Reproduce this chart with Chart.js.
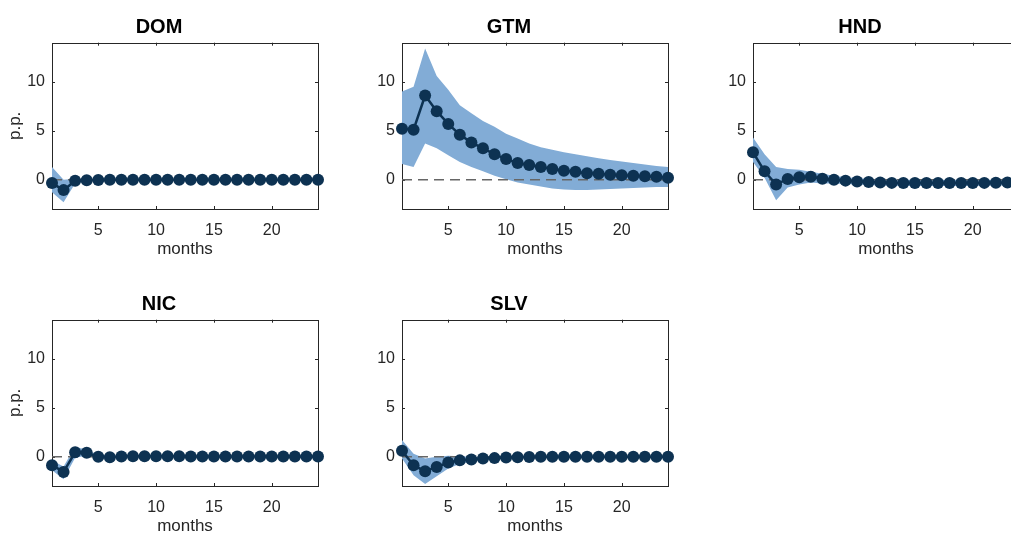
<!DOCTYPE html>
<html>
<head>
<meta charset="utf-8">
<script src="https://cdn.jsdelivr.net/npm/chart.js@4"></script>
<style>
  html, body { margin: 0; padding: 0; background: #fff; }
  body { width: 1011px; height: 533px; overflow: hidden; position: relative; }
  canvas { position: absolute; }
</style>
</head>
<body>
<div id="charts"></div>
<script>
// months on the x axis and the tick labels used by every panel
const months = [1,2,3,4,5,6,7,8,9,10,11,12,13,14,15,16,17,18,19,20,21,22,23,24];
const xTicks = [5, 10, 15, 20];
const yTicks = [0, 5, 10];

// point estimates (p.p.) and the upper / lower band for each country
const domMid = [-0.35,-1.07,-0.12,-0.05,-0.03,-0.02,-0.02,-0.01,-0.01,0,0,0,0,0,0,0,0,0,0,0,0,0,0,0];
const domHi  = [1.3,0.0,0.1,0.06,0.05,0.04,0.03,0.03,0.02,0.02,0.02,0.02,0.02,0.02,0.02,0.02,0.02,0.02,0.02,0.02,0.02,0.02,0.02,0.02];
const domLo  = [-1.3,-2.3,-0.4,-0.16,-0.11,-0.08,-0.06,-0.05,-0.04,-0.03,-0.02,-0.02,-0.02,-0.02,-0.02,-0.02,-0.02,-0.02,-0.02,-0.02,-0.02,-0.02,-0.02,-0.02];

const gtmMid = [5.2,5.1,8.6,7.0,5.7,4.6,3.8,3.2,2.6,2.1,1.7,1.5,1.3,1.1,0.9,0.8,0.65,0.6,0.5,0.45,0.4,0.35,0.3,0.2];
const gtmHi  = [9.0,9.5,13.4,10.6,9.2,7.6,6.8,6.0,5.4,4.7,4.2,3.7,3.3,3.05,2.8,2.6,2.4,2.2,2.0,1.85,1.7,1.55,1.4,1.3];
const gtmLo  = [1.6,1.3,3.7,3.2,2.5,1.8,1.3,0.85,0.4,0.05,-0.3,-0.5,-0.7,-0.9,-1.0,-1.05,-1.05,-1.0,-0.95,-0.9,-0.85,-0.8,-0.75,-0.75];

const hndMid = [2.8,0.85,-0.5,0.07,0.24,0.3,0.1,0.0,-0.1,-0.2,-0.25,-0.3,-0.33,-0.35,-0.35,-0.35,-0.35,-0.35,-0.35,-0.35,-0.33,-0.32,-0.3,-0.3];
const hndHi  = [4.3,2.6,1.3,1.1,1.0,0.8,0.6,0.4,0.25,0.15,0.1,0.05,0.02,0.0,0.0,0.0,0.0,0.0,0.0,0.0,0.0,0.0,0.0,0.0];
const hndLo  = [1.8,0.2,-2.1,-0.8,-0.5,-0.3,-0.4,-0.4,-0.45,-0.5,-0.55,-0.6,-0.62,-0.64,-0.64,-0.64,-0.64,-0.64,-0.64,-0.64,-0.62,-0.6,-0.6,-0.6];

const nicMid = [-0.87,-1.56,0.45,0.4,-0.02,-0.05,0.02,0.04,0.04,0.04,0.03,0.03,0.02,0.02,0.02,0.02,0.02,0.02,0.02,0.02,0.02,0.02,0.02,0.02];
const nicHi  = [-0.4,-1.0,1.0,0.7,0.15,0.1,0.1,0.08,0.07,0.06,0.05,0.05,0.04,0.04,0.04,0.04,0.04,0.04,0.04,0.04,0.04,0.04,0.04,0.04];
const nicLo  = [-1.4,-2.3,-0.1,0.1,-0.15,-0.15,-0.05,0.0,0.01,0.01,0.01,0.01,0.0,0.0,0.0,0.0,0.0,0.0,0.0,0.0,0.0,0.0,0.0,0.0];

const slvMid = [0.6,-0.87,-1.5,-1.05,-0.6,-0.38,-0.28,-0.2,-0.15,-0.08,-0.05,-0.03,-0.02,-0.01,0,0,0,0,0,0,0,0,0,0];
const slvHi  = [1.7,0.3,-0.2,0.0,0.1,0.05,0.0,-0.05,-0.05,0.02,0.03,0.03,0.03,0.03,0.03,0.03,0.03,0.03,0.03,0.03,0.03,0.03,0.03,0.03];
const slvLo  = [-0.2,-1.9,-2.8,-2.0,-1.2,-0.75,-0.5,-0.35,-0.25,-0.15,-0.1,-0.08,-0.06,-0.05,-0.04,-0.03,-0.03,-0.03,-0.03,-0.03,-0.03,-0.03,-0.03,-0.03];

// colours
const lineColor = "#0d3252";
const bandColor = "rgb(130,172,214)";
const axisColor = "#262626";
const fontName = "'Liberation Sans', Arial, sans-serif";

// helper: pair months with values for a linear x axis
function pts(values) {
  return values.map((v, i) => ({ x: months[i], y: v }));
}

// draws the axes box with inward ticks on all four sides (matlab look)
const boxPlugin = {
  id: "boxPlugin",
  beforeDatasetsDraw(chart) {
    const a = chart.chartArea;
    const xs = chart.scales.x;
    const ys = chart.scales.y;
    const ctx = chart.ctx;
    ctx.save();
    ctx.strokeStyle = axisColor;
    ctx.lineWidth = 1;
    ctx.strokeRect(Math.round(a.left) + 0.5, Math.round(a.top) + 0.5,
      Math.round(a.right - a.left), Math.round(a.bottom - a.top));
    ctx.beginPath();
    xTicks.forEach(t => {
      const px = Math.round(xs.getPixelForValue(t)) + 0.5;
      ctx.moveTo(px, a.bottom); ctx.lineTo(px, a.bottom - 3);
      ctx.moveTo(px, a.top); ctx.lineTo(px, a.top + 3);
    });
    yTicks.forEach(t => {
      const py = Math.round(ys.getPixelForValue(t)) + 0.5;
      ctx.moveTo(a.left, py); ctx.lineTo(a.left + 3, py);
      ctx.moveTo(a.right, py); ctx.lineTo(a.right - 3, py);
    });
    ctx.stroke();
    ctx.restore();
  }
};

// one panel = one canvas placed where the reference puts it
function makePanel(title, mid, hi, lo, left, top, showYTitle) {
  const canv = document.createElement("canvas");
  canv.width = 370;
  canv.height = 270;
  canv.style.left = left + "px";
  canv.style.top = top + "px";
  canv.style.width = "370px";
  canv.style.height = "270px";
  document.getElementById("charts").appendChild(canv);

  new Chart(canv.getContext("2d"), {
    type: "line",
    data: {
      datasets: [
        {
          data: pts(mid),
          borderColor: lineColor,
          backgroundColor: lineColor,
          borderWidth: 2.5,
          pointRadius: 6,
          pointBorderWidth: 0,
          pointBackgroundColor: lineColor,
          fill: false,
          clip: false
        },
        {
          data: [{ x: months[0], y: 0 }, { x: months[months.length - 1], y: 0 }],
          borderColor: "#666666",
          borderWidth: 1.5,
          borderDash: [10, 6],
          pointRadius: 0,
          fill: false
        },
        {
          data: pts(hi),
          borderWidth: 0,
          borderColor: bandColor,
          backgroundColor: bandColor,
          pointRadius: 0,
          fill: "+1"
        },
        {
          data: pts(lo),
          borderWidth: 0,
          borderColor: bandColor,
          pointRadius: 0,
          fill: false
        }
      ]
    },
    options: {
      responsive: false,
      animation: false,
      events: [],
      layout: { padding: { left: 0, right: 52, top: 0, bottom: 0 } },
      plugins: {
        legend: { display: false },
        tooltip: { enabled: false },
        title: {
          display: true,
          text: title,
          color: "#000",
          font: { family: fontName, size: 20, weight: "bold" },
          padding: { top: 15, bottom: 3.7 }
        }
      },
      scales: {
        x: {
          type: "linear",
          min: 1,
          max: 24,
          grid: { display: false, drawTicks: false },
          border: { display: false },
          afterBuildTicks: s => { s.ticks = xTicks.map(v => ({ value: v })); },
          afterFit: s => { s.height = 61; },
          ticks: {
            autoSkip: false,
            maxRotation: 0,
            color: axisColor,
            padding: 12,
            font: { family: fontName, size: 16 }
          },
          title: {
            display: true,
            text: "months",
            color: axisColor,
            font: { family: fontName, size: 17 },
            padding: { top: 0, bottom: 10 }
          }
        },
        y: {
          min: -3,
          max: 14,
          grid: { display: false, drawTicks: false },
          border: { display: false },
          afterBuildTicks: s => { s.ticks = yTicks.map(v => ({ value: v })); },
          afterFit: s => { s.width = 52; },
          ticks: {
            color: axisColor,
            padding: 7,
            font: { family: fontName, size: 16 }
          },
          title: {
            display: showYTitle,
            text: "p.p.",
            color: axisColor,
            font: { family: fontName, size: 17 },
            padding: { top: 5, bottom: 0 }
          }
        }
      }
    },
    plugins: [boxPlugin]
  });
}

makePanel("DOM", domMid, domHi, domLo, 0, 0, true);
makePanel("GTM", gtmMid, gtmHi, gtmLo, 350, 0, false);
makePanel("HND", hndMid, hndHi, hndLo, 701, 0, false);
makePanel("NIC", nicMid, nicHi, nicLo, 0, 277, true);
makePanel("SLV", slvMid, slvHi, slvLo, 350, 277, false);
</script>
</body>
</html>
